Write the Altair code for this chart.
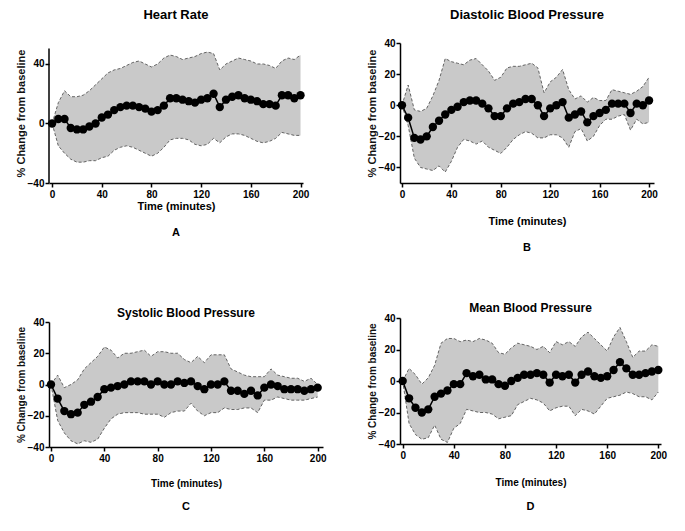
import altair as alt
import pandas as pd

FONT = "Liberation Sans"

time_min = list(range(0, 205, 5))

# Heart Rate
hr_mean = [0, 3, 3, -3, -4, -4, -2, 0, 4, 6, 9, 11, 12, 12, 11, 10, 8, 9, 12, 17, 17,
           16, 15, 14, 16, 17, 20, 11, 16, 18, 19, 17, 16, 15, 13, 13, 12, 19, 19, 17, 19]
hr_upper = [0, 14, 22, 18, 18, 19, 22, 26, 30, 34, 36, 37, 39, 41, 42, 40, 38, 40, 44, 46, 45,
            43, 44, 45, 47, 48, 47, 36, 40, 42, 44, 43, 42, 40, 40, 39, 37, 42, 44, 43, 46]
hr_lower = [0, -15, -20, -24, -26, -26, -25, -25, -23, -22, -18, -16, -15, -16, -18, -20, -22, -20, -16, -11, -10,
            -10, -11, -14, -15, -14, -10, -13, -9, -7, -7, -8, -10, -12, -13, -12, -10, -6, -7, -8, -8]

# Diastolic Blood Pressure
dbp_mean = [0, -8, -21, -22, -20, -14, -10, -6, -3, -1, 2, 3, 3, 1, -2, -7, -7, -2, 1, 2, 4,
            4, 0, -7, -2, 0, 2, -8, -6, -4, -11, -7, -5, -3, 1, 1, 1, -5, 1, 0, 3]
dbp_upper = [0, 13, -3, -4, -2, 6, 16, 30, 28, 27, 26, 29, 30, 26, 22, 16, 18, 24, 25, 25, 26,
             27, 24, 8, 15, 18, 23, 10, 4, 6, 2, 5, 3, 3, 10, 9, 8, 7, 9, 12, 18]
dbp_lower = [0, -13, -34, -40, -41, -42, -39, -43, -36, -27, -22, -23, -25, -23, -27, -29, -31, -27, -22, -19, -17,
             -18, -21, -21, -19, -19, -21, -27, -17, -15, -23, -20, -13, -9, -9, -7, -6, -16, -9, -12, -11]

# Systolic Blood Pressure
sbp_mean = [0, -9, -17, -19, -18, -13, -11, -8, -3, -2, -1, 0, 2, 2, 2, 0, 2, 0, 0, 2, 1,
            2, -1, -3, 0, 0, 2, -4, -4, -6, -4, -7, -2, 0, -1, -3, -3, -3, -4, -3, -2]
sbp_upper = [0, 6, -2, 0, 3, 10, 14, 18, 24, 22, 17, 20, 20, 21, 22, 18, 21, 21, 20, 20, 16,
             14, 18, 14, 19, 19, 19, 10, 8, 6, 5, 5, 5, 10, 6, 5, 4, 4, 2, 4, 0]
sbp_lower = [0, -23, -31, -36, -38, -36, -37, -35, -28, -22, -19, -18, -18, -18, -19, -19, -19, -21, -18, -17, -17,
             -12, -17, -20, -18, -18, -15, -16, -16, -15, -15, -18, -10, -10, -8, -9, -10, -10, -10, -9, -8]

# Mean Blood Pressure
mbp_mean = [0, -11, -17, -20, -18, -10, -8, -6, -2, -2, 5, 3, 4, 1, 1, -2, -3, 0, 2, 4, 4,
            5, 4, -1, 4, 3, 4, -1, 4, 6, 3, 2, 3, 7, 12, 8, 4, 4, 5, 6, 7]
mbp_upper = [0, 8, 4, -2, 2, 10, 24, 27, 27, 25, 26, 25, 27, 26, 24, 18, 17, 21, 24, 23, 22,
             20, 22, 18, 25, 23, 25, 22, 28, 31, 27, 23, 19, 28, 34, 25, 15, 19, 19, 23, 22]
mbp_lower = [0, -27, -34, -37, -36, -28, -37, -39, -30, -27, -18, -19, -20, -20, -21, -24, -23, -22, -15, -13, -11,
             -12, -14, -19, -17, -16, -16, -22, -18, -19, -21, -16, -11, -10, -9, -7, -8, -10, -10, -12, -7]

x_ticks = [0, 40, 80, 120, 160, 200]
y_ticks = [-40, -20, 0, 20, 40]


def panel(title, mean, upper, lower, letter, w, h, xdom, ydom,
          title_size, title_offset, axis_title_size, x_title_pad, letter_dy,
          axis_top=None):
    df = pd.DataFrame({"t": time_min, "m": mean, "u": upper, "l": lower})
    base = alt.Chart(df)
    xaxis = alt.Axis(values=x_ticks, title="Time (minutes)", titleFont=FONT,
                     titleFontSize=axis_title_size, titleFontWeight="bold",
                     titleColor="black", titlePadding=x_title_pad,
                     labelFont=FONT, labelFontSize=10, labelFontWeight="bold",
                     labelColor="black", domainColor="black", domainWidth=1.5,
                     tickColor="black", tickWidth=1.5, tickSize=4, grid=False,
                     labelPadding=2)
    yaxis = alt.Axis(values=y_ticks, title="% Change from baseline", titleFont=FONT,
                     titleFontSize=axis_title_size, titleFontWeight="bold",
                     titleColor="#111", titlePadding=1,
                     labelFont=FONT, labelFontSize=10, labelFontWeight="bold",
                     labelColor="black", domainColor="black", domainWidth=1.5,
                     domain=(axis_top is None),
                     tickColor="black", tickWidth=1.5, tickSize=4, grid=False,
                     labelPadding=1)
    xs = alt.Scale(domain=xdom, nice=False, zero=False)
    ys = alt.Scale(domain=ydom, nice=False, zero=False)

    def X():
        return alt.X("t:Q", scale=xs, axis=xaxis)

    def Y(f):
        return alt.Y(f, scale=ys, axis=yaxis)

    band = base.mark_area(color="#c9c9c9", opacity=1).encode(x=X(), y=Y("u:Q"), y2="l:Q")
    up = base.mark_line(color="#555555", strokeDash=[3, 2], strokeWidth=0.9).encode(x=X(), y=Y("u:Q"))
    lo = base.mark_line(color="#555555", strokeDash=[3, 2], strokeWidth=0.9).encode(x=X(), y=Y("l:Q"))
    line = base.mark_line(color="black", strokeWidth=1.5).encode(x=X(), y=Y("m:Q"))
    pts = base.mark_circle(color="black", size=70, opacity=1).encode(x=X(), y=Y("m:Q"))
    lab = alt.Chart(alt.Data(values=[{}])).mark_text(
        text=letter, font=FONT, fontSize=11, fontWeight="bold", color="black"
    ).encode(x=alt.value(w / 2), y=alt.value(h + letter_dy))
    layers = [band, up, lo, line, pts, lab]
    if axis_top is not None:
        rule = alt.Chart(alt.Data(values=[{}])).mark_rule(color="black", strokeWidth=1.5).encode(
            x=alt.value(0), y=alt.datum(axis_top, scale=ys), y2=alt.datum(ydom[0]))
        layers.append(rule)
    return alt.layer(*layers).properties(
        width=w, height=h,
        title=alt.TitleParams(title, font=FONT, fontSize=title_size, fontWeight="bold",
                              color="black", anchor="middle", offset=title_offset),
    )


A = panel("Heart Rate", hr_mean, hr_upper, hr_lower, "A", 254, 140,
          [-2.5, 202], [-40, 54.1], 13, 21, 11, 1, 50, axis_top=50.4)
B = panel("Diastolic Blood Pressure", dbp_mean, dbp_upper, dbp_lower, "B", 254, 140,
          [-1.6, 204], [-50, 40], 13, 16, 11, 16, 65)
C = panel("Systolic Blood Pressure", sbp_mean, sbp_upper, sbp_lower, "C", 274, 125,
          [-1.5, 204], [-40, 40], 12, -3, 10, 15, 60)
D = panel("Mean Blood Pressure", mbp_mean, mbp_upper, mbp_lower, "D", 261, 126,
          [-2.1, 202.1], [-40, 40], 12, -2, 10, 17, 63)

left = alt.vconcat(A, C, spacing=69)
right = alt.vconcat(B, D, spacing=49)
chart = alt.hconcat(left, right, spacing=39).properties(
    padding={"left": 7, "top": 1, "right": 5, "bottom": 5}
).configure_view(stroke=None)

chart.save("out.html", embed_options={"renderer": "svg", "actions": False})
